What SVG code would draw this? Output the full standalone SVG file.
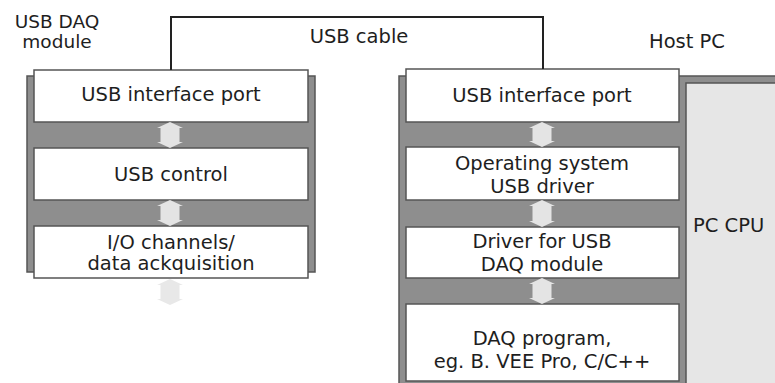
<svg xmlns="http://www.w3.org/2000/svg" width="775" height="383" viewBox="0 0 775 383">
  <style>
    .panel { fill: #8e8e8e; stroke: #555; stroke-width: 1.5; }
    .box { fill: #ffffff; stroke: #555; stroke-width: 1.5; }
    .cpu { fill: #e6e6e6; stroke: #555; stroke-width: 1.5; }
    .flow { fill: #e4e4e4; stroke: none; }
    .flow-out { fill: #e8e8e8; stroke: none; }
    .cable { fill: none; stroke: #222; stroke-width: 2; }
    text { font-family: "DejaVu Sans", "Liberation Sans", sans-serif; font-size: 19.5px; fill: #1e1e1e; }
    .c { text-anchor: middle; }
    .title { font-size: 18.5px; }
  </style>

  <!-- USB DAQ module -->
  <g id="daq-module">
    <rect class="panel" x="27" y="76" width="288" height="196"/>
    <text class="c title" x="57" y="28">USB DAQ</text>
    <text class="c title" x="57" y="48">module</text>
  </g>
  <g id="daq-usb-port">
    <rect class="box" x="34" y="70" width="274" height="52"/>
    <text class="c" x="171" y="101">USB interface port</text>
  </g>
  <g id="daq-usb-control">
    <rect class="box" x="34" y="148" width="274" height="52"/>
    <text class="c" x="171" y="181">USB control</text>
  </g>
  <g id="daq-io">
    <rect class="box" x="34" y="226" width="274" height="52"/>
    <text class="c" x="171" y="249">I/O channels/</text>
    <text class="c" x="171" y="270">data ackquisition</text>
  </g>

  <!-- Host PC -->
  <g id="host-pc">
    <rect class="panel" x="399" y="76" width="390" height="320"/>
    <text class="c" x="687" y="48">Host PC</text>
  </g>
  <g id="pc-cpu">
    <rect class="cpu" x="686" y="83" width="100" height="310"/>
    <text x="693" y="232">PC CPU</text>
  </g>
  <g id="pc-usb-port">
    <rect class="box" x="406" y="69" width="273" height="53"/>
    <text class="c" x="542" y="102">USB interface port</text>
  </g>
  <g id="pc-os-driver">
    <rect class="box" x="406" y="147" width="273" height="53"/>
    <text class="c" x="542" y="170">Operating system</text>
    <text class="c" x="542" y="193">USB driver</text>
  </g>
  <g id="pc-daq-driver">
    <rect class="box" x="406" y="227" width="273" height="51"/>
    <text class="c" x="542" y="248">Driver for USB</text>
    <text class="c" x="542" y="271">DAQ module</text>
  </g>
  <g id="pc-daq-program">
    <rect class="box" x="406" y="304" width="273" height="77"/>
    <text class="c" x="542" y="345">DAQ program,</text>
    <text class="c" x="542" y="368">eg. B. VEE Pro, C/C++</text>
  </g>

  <!-- Connectors -->
  <g id="connectors">
    <polyline class="cable" points="171,70 171,17 543,17 543,69"/>
    <text class="c" x="359" y="43">USB cable</text>
    <path class="flow" d="M170,122 L183,128 L179.5,128 L179.5,142 L183,142 L170,148 L157,142 L160.5,142 L160.5,128 L157,128 Z"/>
    <path class="flow" d="M170,200 L183,206 L179.5,206 L179.5,220 L183,220 L170,226 L157,220 L160.5,220 L160.5,206 L157,206 Z"/>
    <path class="flow-out" d="M170,279 L183,285 L179.5,285 L179.5,299 L183,299 L170,305 L157,299 L160.5,299 L160.5,285 L157,285 Z"/>
    <path class="flow" d="M542,122 L555,128 L551.5,128 L551.5,141 L555,141 L542,147 L529,141 L532.5,141 L532.5,128 L529,128 Z"/>
    <path class="flow" d="M542,200 L555,206 L551.5,206 L551.5,221 L555,221 L542,227 L529,221 L532.5,221 L532.5,206 L529,206 Z"/>
    <path class="flow" d="M542,278 L555,284 L551.5,284 L551.5,298 L555,298 L542,304 L529,298 L532.5,298 L532.5,284 L529,284 Z"/>
  </g>
</svg>
